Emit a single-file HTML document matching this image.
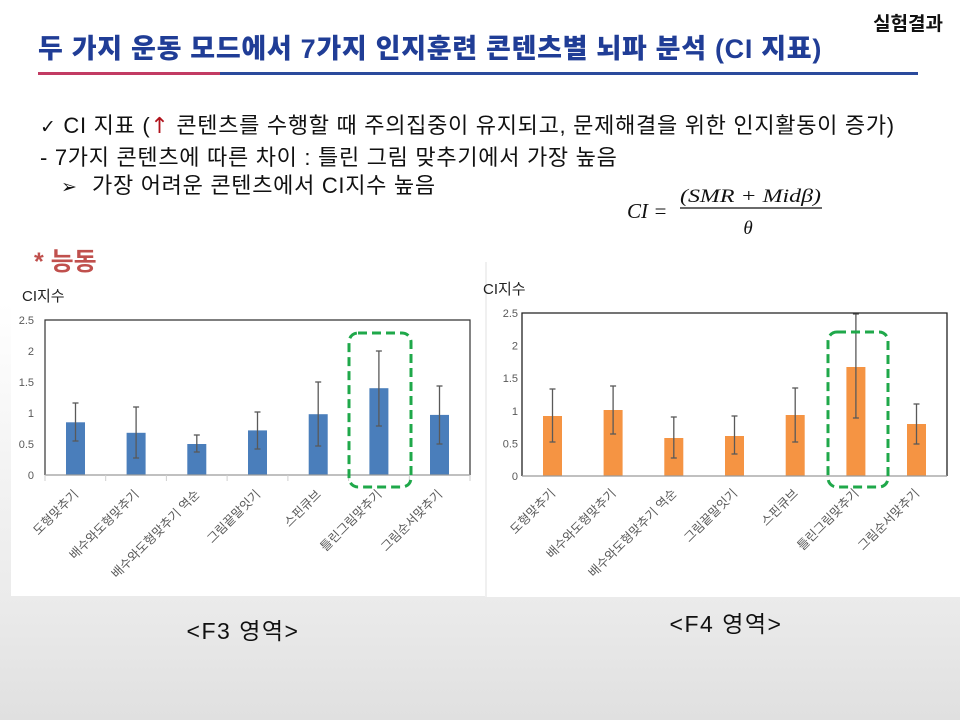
<!DOCTYPE html>
<html>
<head>
<meta charset="utf-8">
<style>
html,body{margin:0;padding:0;}
body{width:960px;height:720px;overflow:hidden;background:linear-gradient(to bottom,#ffffff 0%,#ffffff 42%,#f1f1f1 70%,#ebebeb 83%,#e0e0e0 100%);}
svg{display:block;}
text{font-family:"Liberation Sans","Noto Sans CJK KR",sans-serif;}
</style>
</head>
<body>
<svg width="960" height="720" viewBox="0 0 960 720" xmlns="http://www.w3.org/2000/svg">
  <rect x="0" y="0" width="960" height="250" fill="#ffffff"/>
  <rect x="11" y="240" width="474" height="356" fill="#ffffff"/>
  <rect x="487" y="262" width="473" height="335" fill="#ffffff"/>
  <line x1="486" y1="262" x2="486" y2="597" stroke="#f0f0f0" stroke-width="2"/>

  <!-- header -->
  <text x="943" y="30" text-anchor="end" font-size="19" font-weight="bold" fill="#111">실험결과</text>
  <text x="38" y="58" font-size="27" font-weight="900" fill="#203d96" letter-spacing="0.7">두 가지 운동 모드에서 7가지 인지훈련 콘텐츠별 뇌파 분석 (CI 지표)</text>
  <rect x="38" y="72" width="182" height="3" fill="#c23b63"/>
  <rect x="220" y="72" width="698" height="3" fill="#2a4a9c"/>

  <!-- body text -->
  <text x="40" y="133" font-size="22" fill="#111" letter-spacing="0.7"><tspan font-family="DejaVu Sans" font-size="19">✓</tspan> CI 지표 (<tspan fill="#b0121b" font-family="DejaVu Sans">↑</tspan> 콘텐츠를 수행할 때 주의집중이 유지되고, 문제해결을 위한 인지활동이 증가)</text>
  <text x="40" y="165" font-size="22" fill="#111" letter-spacing="0.7">- 7가지 콘텐츠에 따른 차이 : 틀린 그림 맞추기에서 가장 높음</text>
  <text x="61" y="193" font-size="19" fill="#111" font-family="DejaVu Sans">➢</text>
  <text x="92" y="193" font-size="22" fill="#111" letter-spacing="0.7">가장 어려운 콘텐츠에서 CI지수 높음</text>

  <!-- formula -->
  <text x="627" y="218" font-size="21" font-style="italic" fill="#111" style="font-family:'Liberation Serif',serif">CI =</text>
  <text x="680" y="202" font-size="19" font-style="italic" fill="#111" textLength="141" lengthAdjust="spacingAndGlyphs" style="font-family:'Liberation Serif',serif">(SMR + Midβ)</text>
  <line x1="680" y1="208" x2="822" y2="208" stroke="#111" stroke-width="1.3"/>
  <text x="748" y="234" text-anchor="middle" font-size="19" font-style="italic" fill="#111" style="font-family:'Liberation Serif',serif">θ</text>

  <!-- * 능동 -->
  <text x="34" y="270" font-size="25" font-weight="bold" fill="#c0504d">* 능동</text>

  <!-- ===== LEFT CHART ===== -->
  <text x="22" y="301" font-size="15" fill="#222">CI지수</text>
  <g font-size="11" fill="#595959" text-anchor="end">
    <text x="34" y="324">2.5</text>
    <text x="34" y="355">2</text>
    <text x="34" y="386">1.5</text>
    <text x="34" y="417">1</text>
    <text x="34" y="448">0.5</text>
    <text x="34" y="479">0</text>
  </g>
  <g fill="#4a7ebb">
    <rect x="66" y="422.3" width="19" height="52.7"/>
    <rect x="126.6" y="432.8" width="19" height="42.2"/>
    <rect x="187.3" y="444" width="19" height="31"/>
    <rect x="248" y="430.4" width="19" height="44.6"/>
    <rect x="308.7" y="414.2" width="19" height="60.8"/>
    <rect x="369.4" y="388.2" width="19" height="86.8"/>
    <rect x="430" y="414.9" width="19" height="60.1"/>
  </g>
  <g stroke="#595959" stroke-width="1.3">
    <line x1="75.5" y1="403" x2="75.5" y2="441"/><line x1="72.5" y1="403" x2="78.5" y2="403"/><line x1="72.5" y1="441" x2="78.5" y2="441"/>
    <line x1="136.1" y1="407" x2="136.1" y2="458"/><line x1="133.1" y1="407" x2="139.1" y2="407"/><line x1="133.1" y1="458" x2="139.1" y2="458"/>
    <line x1="196.8" y1="435" x2="196.8" y2="452"/><line x1="193.8" y1="435" x2="199.8" y2="435"/><line x1="193.8" y1="452" x2="199.8" y2="452"/>
    <line x1="257.5" y1="412" x2="257.5" y2="449"/><line x1="254.5" y1="412" x2="260.5" y2="412"/><line x1="254.5" y1="449" x2="260.5" y2="449"/>
    <line x1="318.2" y1="382" x2="318.2" y2="446"/><line x1="315.2" y1="382" x2="321.2" y2="382"/><line x1="315.2" y1="446" x2="321.2" y2="446"/>
    <line x1="378.9" y1="351" x2="378.9" y2="426"/><line x1="375.9" y1="351" x2="381.9" y2="351"/><line x1="375.9" y1="426" x2="381.9" y2="426"/>
    <line x1="439.5" y1="386" x2="439.5" y2="444"/><line x1="436.5" y1="386" x2="442.5" y2="386"/><line x1="436.5" y1="444" x2="442.5" y2="444"/>
  </g>
  <polyline points="45,475 45,320 470,320 470,475" fill="none" stroke="#333" stroke-width="1.2"/>
  <line x1="45" y1="475" x2="470" y2="475" stroke="#9a9a9a" stroke-width="1.2"/>
  <g stroke="#cfcfcf" stroke-width="1">
    <line x1="45" y1="475" x2="45" y2="481"/><line x1="105.7" y1="475" x2="105.7" y2="481"/><line x1="166.4" y1="475" x2="166.4" y2="481"/><line x1="227.1" y1="475" x2="227.1" y2="481"/><line x1="287.9" y1="475" x2="287.9" y2="481"/><line x1="348.6" y1="475" x2="348.6" y2="481"/><line x1="409.3" y1="475" x2="409.3" y2="481"/><line x1="470" y1="475" x2="470" y2="481"/>
  </g>
  <g font-size="12.5" fill="#595959" text-anchor="end">
    <text transform="translate(76,492) rotate(-45)" dy="0.35em">도형맞추기</text>
    <text transform="translate(136.6,492) rotate(-45)" dy="0.35em">배수와도형맞추기</text>
    <text transform="translate(197.3,492) rotate(-45)" dy="0.35em">배수와도형맞추기 역순</text>
    <text transform="translate(258,492) rotate(-45)" dy="0.35em">그림끝말잇기</text>
    <text transform="translate(318.7,492) rotate(-45)" dy="0.35em">스핀큐브</text>
    <text transform="translate(379.4,492) rotate(-45)" dy="0.35em">틀린그림맞추기</text>
    <text transform="translate(440,492) rotate(-45)" dy="0.35em">그림순서맞추기</text>
  </g>
  <rect x="349" y="333" width="62" height="154" rx="9" ry="9" fill="none" stroke="#1fa84a" stroke-width="3" stroke-dasharray="9 5"/>

  <!-- ===== RIGHT CHART ===== -->
  <text x="483" y="294" font-size="15" fill="#222">CI지수</text>
  <g font-size="11" fill="#595959" text-anchor="end">
    <text x="518" y="317">2.5</text>
    <text x="518" y="349.6">2</text>
    <text x="518" y="382.2">1.5</text>
    <text x="518" y="414.8">1</text>
    <text x="518" y="447.4">0.5</text>
    <text x="518" y="480">0</text>
  </g>
  <g fill="#f59443">
    <rect x="543" y="416" width="19" height="60"/>
    <rect x="603.6" y="410" width="19" height="66"/>
    <rect x="664.3" y="438" width="19" height="38"/>
    <rect x="725" y="436" width="19" height="40"/>
    <rect x="785.7" y="415" width="19" height="61"/>
    <rect x="846.4" y="367" width="19" height="109"/>
    <rect x="907" y="424" width="19" height="52"/>
  </g>
  <g stroke="#595959" stroke-width="1.3">
    <line x1="552.5" y1="389" x2="552.5" y2="442"/><line x1="549.5" y1="389" x2="555.5" y2="389"/><line x1="549.5" y1="442" x2="555.5" y2="442"/>
    <line x1="613.1" y1="386" x2="613.1" y2="434"/><line x1="610.1" y1="386" x2="616.1" y2="386"/><line x1="610.1" y1="434" x2="616.1" y2="434"/>
    <line x1="673.8" y1="417" x2="673.8" y2="458"/><line x1="670.8" y1="417" x2="676.8" y2="417"/><line x1="670.8" y1="458" x2="676.8" y2="458"/>
    <line x1="734.5" y1="416" x2="734.5" y2="454"/><line x1="731.5" y1="416" x2="737.5" y2="416"/><line x1="731.5" y1="454" x2="737.5" y2="454"/>
    <line x1="795.2" y1="388" x2="795.2" y2="442"/><line x1="792.2" y1="388" x2="798.2" y2="388"/><line x1="792.2" y1="442" x2="798.2" y2="442"/>
    <line x1="855.9" y1="314" x2="855.9" y2="418"/><line x1="852.9" y1="314" x2="858.9" y2="314"/><line x1="852.9" y1="418" x2="858.9" y2="418"/>
    <line x1="916.5" y1="404" x2="916.5" y2="444"/><line x1="913.5" y1="404" x2="919.5" y2="404"/><line x1="913.5" y1="444" x2="919.5" y2="444"/>
  </g>
  <polyline points="522,476 522,313 947,313 947,476" fill="none" stroke="#222" stroke-width="1.3"/>
  <line x1="522" y1="476" x2="947" y2="476" stroke="#9a9a9a" stroke-width="1.2"/>
  <g font-size="12.5" fill="#595959" text-anchor="end">
    <text transform="translate(553,491) rotate(-45)" dy="0.35em">도형맞추기</text>
    <text transform="translate(613.6,491) rotate(-45)" dy="0.35em">배수와도형맞추기</text>
    <text transform="translate(674.3,491) rotate(-45)" dy="0.35em">배수와도형맞추기 역순</text>
    <text transform="translate(735,491) rotate(-45)" dy="0.35em">그림끝말잇기</text>
    <text transform="translate(795.7,491) rotate(-45)" dy="0.35em">스핀큐브</text>
    <text transform="translate(856.4,491) rotate(-45)" dy="0.35em">틀린그림맞추기</text>
    <text transform="translate(917,491) rotate(-45)" dy="0.35em">그림순서맞추기</text>
  </g>
  <rect x="828" y="332" width="60" height="155" rx="9" ry="9" fill="none" stroke="#1fa84a" stroke-width="3" stroke-dasharray="9 5"/>

  <!-- bottom captions -->
  <text x="243" y="639" text-anchor="middle" font-size="23" fill="#111" letter-spacing="1.5">&lt;F3 영역&gt;</text>
  <text x="726" y="632" text-anchor="middle" font-size="23" fill="#111" letter-spacing="1.5">&lt;F4 영역&gt;</text>
</svg>
</body>
</html>
